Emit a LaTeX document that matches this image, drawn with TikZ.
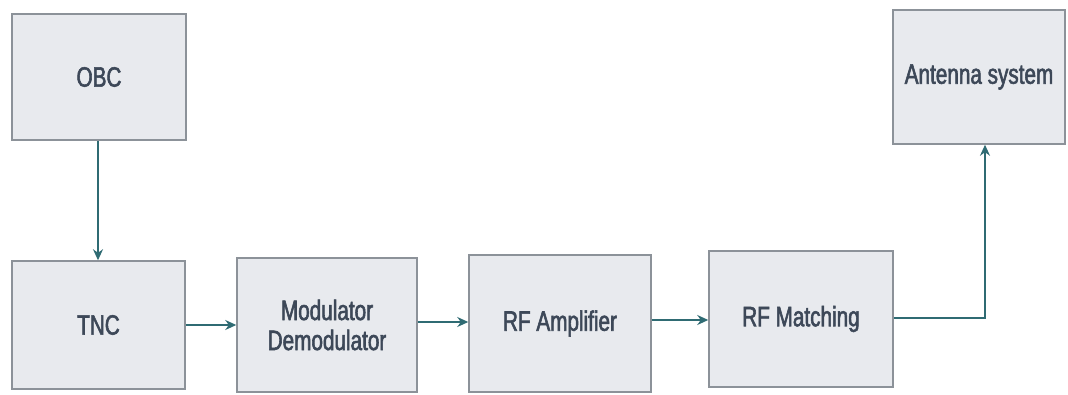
\documentclass[tikz,border=0pt]{standalone}
\usepackage{fontspec}
\setmainfont[FakeStretch=0.74,FakeBold=2]{Liberation Sans}
\usetikzlibrary{arrows.meta}
\definecolor{boxfill}{HTML}{E8EAEE}
\definecolor{boxline}{HTML}{8C9299}
\definecolor{txt}{HTML}{3D4858}
\definecolor{arr}{HTML}{2F6B73}
\begin{document}
\begin{tikzpicture}[x=1pt,y=-1pt,
  blk/.style={draw=boxline, fill=boxfill, line width=1.5pt, rectangle, inner sep=0pt,
    text=txt, font=\fontsize{28}{30}\selectfont, align=center},
  conn/.style={draw=arr, line width=1.6pt, -{Stealth[length=11pt,width=10pt]}}]
\useasboundingbox (0,0) rectangle (1068,394);
\fill[white] (0,0) rectangle (1068,394);
\node[blk, minimum width=174pt, minimum height=126pt] (obc) at (99,77) {OBC};
\node[blk, minimum width=173pt, minimum height=128pt] (tnc) at (98.5,325) {TNC};
\node[blk, minimum width=180pt, minimum height=134pt] (mod) at (327,325) {Modulator\\Demodulator};
\node[blk, minimum width=182pt, minimum height=137pt] (amp) at (560,323.5) {RF Amplifier};
\node[blk, minimum width=184pt, minimum height=136pt] (mat) at (801,319) {RF Matching};
\node[blk, minimum width=172pt, minimum height=134pt] (ant) at (979,77) {Antenna system};
\coordinate (antin) at ([xshift=6pt]ant.south);
\draw[conn] ([xshift=-1pt]obc.south) -- ([xshift=-1pt]obc.south |- tnc.north);
\draw[conn] (tnc.east) -- (tnc.east -| mod.west);
\draw[conn] ([yshift=3pt]mod.east) -- ([yshift=3pt]mod.east -| amp.west);
\draw[conn] ([yshift=3.5pt]amp.east) -- ([yshift=3.5pt]amp.east -| mat.west);
\draw[conn] ([yshift=1pt]mat.east) -| (antin);
\end{tikzpicture}
\end{document}
